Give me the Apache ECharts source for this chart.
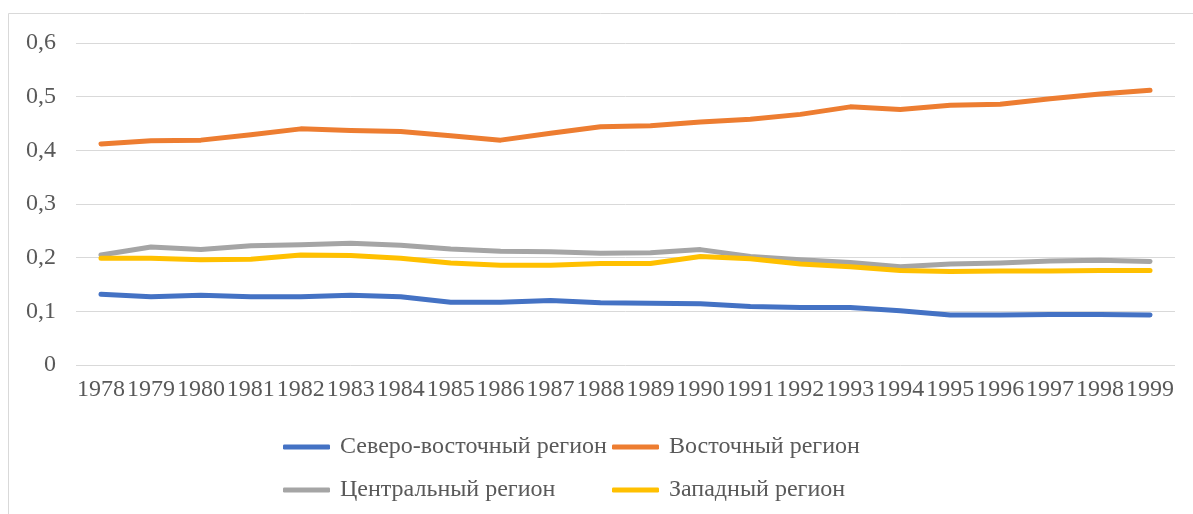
<!DOCTYPE html>
<html>
<head>
<meta charset="utf-8">
<script src="https://cdn.jsdelivr.net/npm/echarts@6/dist/echarts.min.js"></script>
<style>
html,body{margin:0;padding:0;background:#fff;}
#chart{width:1193px;height:514px;}
</style>
</head>
<body>
<div id="chart"></div>
<script>
const years = ['1978','1979','1980','1981','1982','1983','1984','1985','1986','1987','1988','1989','1990','1991','1992','1993','1994','1995','1996','1997','1998','1999'];
const yTicks = [0, 0.1, 0.2, 0.3, 0.4, 0.5, 0.6];
const northeast = [0.132,0.127,0.130,0.127,0.127,0.130,0.127,0.117,0.117,0.120,0.116,0.115,0.114,0.109,0.107,0.107,0.101,0.093,0.093,0.094,0.094,0.093];
const east = [0.412,0.418,0.419,0.429,0.440,0.437,0.435,0.427,0.419,0.432,0.444,0.446,0.453,0.458,0.467,0.481,0.476,0.484,0.486,0.496,0.505,0.512];
const central = [0.205,0.220,0.215,0.222,0.224,0.227,0.223,0.216,0.212,0.211,0.208,0.209,0.215,0.202,0.196,0.191,0.183,0.188,0.190,0.194,0.195,0.193];
const west = [0.199,0.199,0.196,0.197,0.205,0.204,0.199,0.190,0.186,0.186,0.189,0.189,0.202,0.198,0.188,0.183,0.176,0.174,0.175,0.175,0.176,0.176];
const names = ['Северо-восточный регион','Восточный регион','Центральный регион','Западный регион'];
const colors = ['#4472C4','#ED7D31','#A5A5A5','#FFC000'];
const seriesData = [northeast, east, central, west];

const font = 'Liberation Serif';
const txt = '#595959';
const chart = echarts.init(document.getElementById('chart'));
chart.setOption({
  animation: false,
  backgroundColor: '#fff',
  graphic: [
    {type:'line', shape:{x1:8.5,y1:13.5,x2:1193,y2:13.5}, style:{stroke:'#D9D9D9', lineWidth:1}},
    {type:'line', shape:{x1:8.5,y1:13.5,x2:8.5,y2:514}, style:{stroke:'#D9D9D9', lineWidth:1}}
  ],
  grid: {left:76, right:18, top:43, bottom:149, containLabel:false},
  xAxis: {
    type:'category', data: years, boundaryGap:true,
    axisLine:{show:false}, axisTick:{show:false},
    axisLabel:{interval:0, color:txt, fontFamily:font, fontSize:24, margin:13}
  },
  yAxis: {
    type:'value', min:yTicks[0], max:yTicks[yTicks.length-1], interval:0.1,
    axisLine:{show:false}, axisTick:{show:false},
    splitLine:{lineStyle:{color:'#D9D9D9', width:1}},
    axisLabel:{color:txt, fontFamily:font, fontSize:24, margin:20,
      formatter: v => String(Math.round(v*10)/10).replace('.', ',')}
  },
  legend: [
    {left:283, top:435, padding:0, orient:'vertical', itemGap:19, itemWidth:47, itemHeight:5, icon:'roundRect',
     data:[names[0], names[2]], textStyle:{color:txt, fontFamily:font, fontSize:24, padding:[0,0,0,5]}},
    {left:612, top:435, padding:0, orient:'vertical', itemGap:19, itemWidth:47, itemHeight:5, icon:'roundRect',
     data:[names[1], names[3]], textStyle:{color:txt, fontFamily:font, fontSize:24, padding:[0,0,0,5]}}
  ],
  series: names.map((n,i) => ({
    name:n, type:'line', data:seriesData[i], color:colors[i],
    showSymbol:false, symbol:'none',
    lineStyle:{width:5, color:colors[i], cap:'round', join:'round'},
    itemStyle:{color:colors[i]}
  }))
});
</script>
</body>
</html>
